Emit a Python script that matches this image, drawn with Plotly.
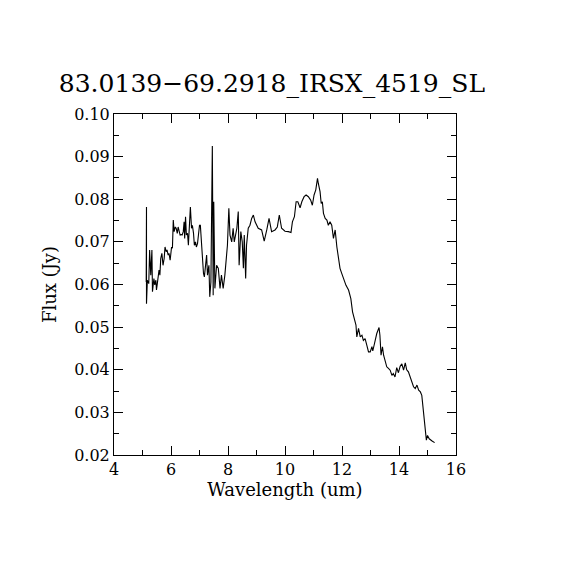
import plotly.graph_objects as go

# spectrum
wavelength = [
    5.13, 5.14, 5.14, 5.17, 5.22, 5.25, 5.29, 5.33, 5.35, 5.40, 5.43, 5.47, 5.49, 5.52,
    5.56, 5.58, 5.61, 5.64, 5.68, 5.72, 5.76, 5.79, 5.83, 5.86, 5.90, 5.93, 5.97, 6.02,
    6.05, 6.08, 6.11, 6.15, 6.18, 6.22, 6.25, 6.29, 6.32, 6.36, 6.39, 6.43, 6.46, 6.48,
    6.51, 6.54, 6.58, 6.61, 6.65, 6.68, 6.72, 6.75, 6.79, 6.82, 6.86, 6.89, 6.93, 6.96,
    7.00, 7.03, 7.07, 7.10, 7.14, 7.17, 7.21,
    7.25, 7.28, 7.33, 7.36, 7.40, 7.45, 7.48, 7.50, 7.54, 7.60, 7.66, 7.72, 7.77, 7.83,
    7.89, 7.95, 7.98, 8.03, 8.07, 8.13, 8.18, 8.22, 8.27, 8.31, 8.36, 8.39, 8.45, 8.50,
    8.54, 8.57, 8.62, 8.65, 8.71, 8.77, 8.83, 8.89,
    8.95, 9.06, 9.18, 9.27, 9.36, 9.44, 9.53, 9.65, 9.73, 9.80, 9.88, 10.00, 10.12,
    10.21, 10.26, 10.33, 10.39, 10.45, 10.53, 10.59, 10.67, 10.74, 10.82, 10.90, 10.96,
    11.02, 11.08, 11.14, 11.17, 11.23, 11.27, 11.31, 11.35, 11.41, 11.47, 11.52, 11.58,
    11.64, 11.70, 11.76, 11.82, 11.87, 11.93, 11.99, 12.05, 12.11, 12.14, 12.23, 12.29,
    12.31, 12.37, 12.44, 12.49, 12.52, 12.58, 12.64, 12.70, 12.75, 12.81, 12.87, 12.93,
    12.99, 13.05, 13.08, 13.14, 13.22, 13.30, 13.33, 13.37, 13.42, 13.46, 13.51, 13.57,
    13.63, 13.69, 13.75, 13.80, 13.86, 13.92, 13.98, 14.04, 14.10, 14.16, 14.22, 14.27,
    14.33, 14.39, 14.45, 14.51, 14.57, 14.63, 14.69, 14.75, 14.80, 14.86, 14.92, 14.96,
    15.00, 15.06, 15.16, 15.25,
]
flux = [
    0.0606, 0.0782, 0.0555, 0.0610, 0.0602, 0.0681, 0.0622, 0.0681, 0.0583, 0.0614, 0.0599, 0.0610, 0.0587, 0.0602,
    0.0630, 0.0634, 0.0622, 0.0661, 0.0673, 0.0645, 0.0661, 0.0688, 0.0677, 0.0681, 0.0669, 0.0673, 0.0657, 0.0688,
    0.0685, 0.0751, 0.0724, 0.0735, 0.0732, 0.0720, 0.0735, 0.0720, 0.0716, 0.0717, 0.0716, 0.0724, 0.0747, 0.0708,
    0.0759, 0.0716, 0.0720, 0.0692, 0.0747, 0.0782, 0.0732, 0.0739, 0.0720, 0.0692, 0.0700, 0.0688, 0.0696, 0.0720,
    0.0739, 0.0739, 0.0696, 0.0653, 0.0626, 0.0618, 0.0638,
    0.0669, 0.0622, 0.0645, 0.0571, 0.0606, 0.0925, 0.0575, 0.0794, 0.0591, 0.0645, 0.0638, 0.0591, 0.0622, 0.0591,
    0.0622, 0.0669, 0.0692, 0.0779, 0.0716, 0.0700, 0.0732, 0.0700, 0.0716, 0.0732, 0.0771, 0.0645, 0.0724, 0.0700,
    0.0638, 0.0716, 0.0614, 0.0692, 0.0732, 0.0739, 0.0755, 0.0763,
    0.0747, 0.0732, 0.0728, 0.0702, 0.0728, 0.0755, 0.0724, 0.0728, 0.0735, 0.0763, 0.0732, 0.0725, 0.0724,
    0.0722, 0.0747, 0.0759, 0.0794, 0.0794, 0.0780, 0.0794, 0.0806, 0.0810, 0.0806, 0.0798, 0.0786,
    0.0810, 0.0822, 0.0849, 0.0837, 0.0818, 0.0790, 0.0794, 0.0767, 0.0755, 0.0751, 0.0739, 0.0747,
    0.0739, 0.0708, 0.0728, 0.0688, 0.0665, 0.0638, 0.0626, 0.0614, 0.0606, 0.0598, 0.0587, 0.0575,
    0.0567, 0.0536, 0.0516, 0.0505, 0.0477, 0.0497, 0.0477, 0.0481, 0.0469, 0.0473, 0.0458, 0.0442,
    0.0442, 0.0454, 0.0444, 0.0465, 0.0485, 0.0499, 0.0481, 0.0434, 0.0454, 0.0434, 0.0418, 0.0407,
    0.0403, 0.0399, 0.0387, 0.0391, 0.0383, 0.0405, 0.0393, 0.0408, 0.0414, 0.0399, 0.0416, 0.0400,
    0.0395, 0.0383, 0.0368, 0.0360, 0.0356, 0.0364, 0.0352, 0.0348, 0.0340, 0.0297, 0.0266, 0.0235,
    0.0246, 0.0238, 0.0233, 0.0229,
]
assert len(wavelength) == len(flux)

title = "83.0139\u221269.2918_IRSX_4519_SL"
font = "DejaVu Serif, Liberation Serif, serif"

fig = go.Figure()
fig.add_trace(go.Scatter(
    x=wavelength, y=flux, mode="lines",
    line=dict(color="black", width=1.1),
    showlegend=False, hoverinfo="skip",
))

axis_common = dict(
    showgrid=False, zeroline=False,
    showline=True, linecolor="black", linewidth=1, mirror="ticks",
    ticks="inside", ticklen=9, tickcolor="black", tickwidth=1,
    tickfont=dict(family=font, size=16, color="black"),
)

# the page is drawn with an 8px body margin, so margins are shifted to match
fig.update_layout(
    width=570, height=570,
    margin=dict(l=106, r=122, t=106, b=123),
    paper_bgcolor="white", plot_bgcolor="white",
    font=dict(family=font, color="black"),
    title=dict(text=title, x=0.463, xanchor="center", y=0.868, yanchor="middle",
               font=dict(family=font, size=25, color="black")),
    xaxis=dict(
        range=[4, 16], tickvals=[4, 6, 8, 10, 12, 14, 16],
        minor=dict(dtick=1, ticks="inside", ticklen=5, tickcolor="black"),
        title=dict(text="Wavelength (um)", font=dict(family=font, size=18), standoff=4),
        **axis_common,
    ),
    yaxis=dict(
        range=[0.02, 0.10], tickvals=[0.02, 0.03, 0.04, 0.05, 0.06, 0.07, 0.08, 0.09, 0.10],
        tickformat=".2f",
        minor=dict(dtick=0.005, ticks="inside", ticklen=5, tickcolor="black"),
        title=dict(text="Flux (Jy)", font=dict(family=font, size=18), standoff=12),
        **axis_common,
    ),
)

fig.write_html("out.html")
